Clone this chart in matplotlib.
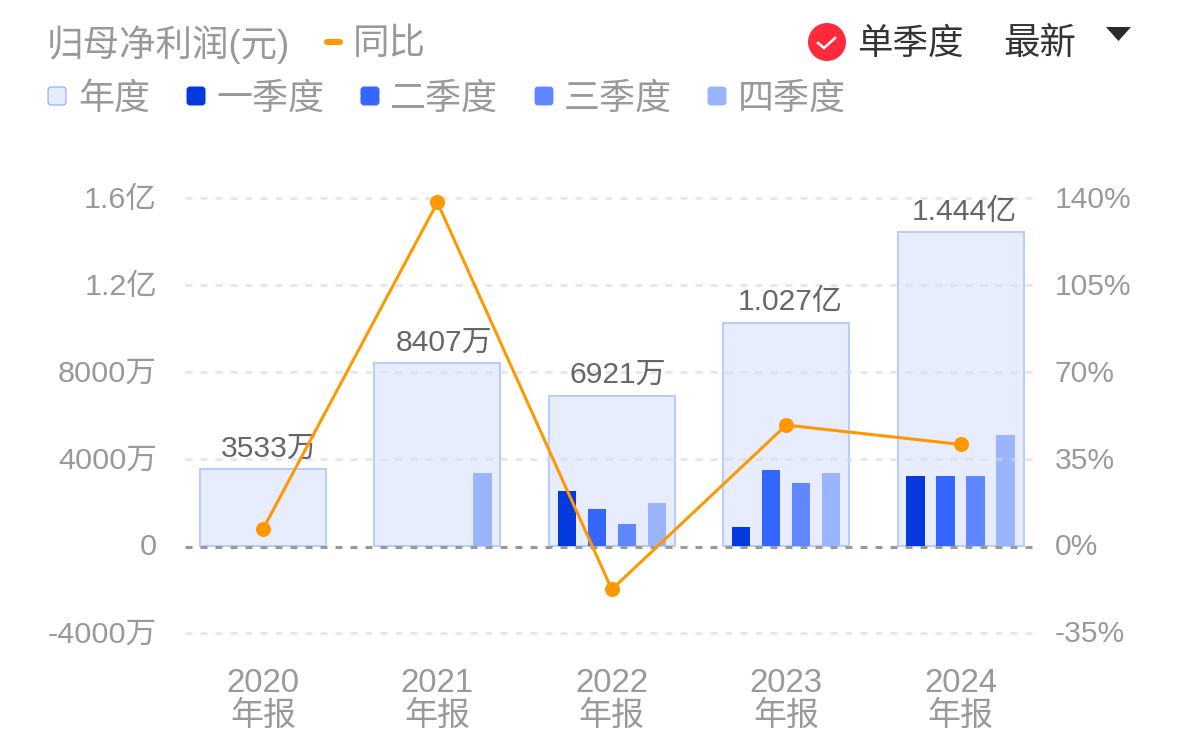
import matplotlib
matplotlib.use("Agg")
import matplotlib.pyplot as plt
from matplotlib.patches import Circle, FancyBboxPatch, Polygon
from matplotlib.transforms import ScaledTranslation
import numpy as np

plt.rcParams['font.family'] = ['Liberation Sans', 'Noto Sans CJK SC', 'DejaVu Sans']

# ---------- data ----------
years = ['2020', '2021', '2022', '2023', '2024']
annual = [0.3533e8, 0.8407e8, 0.6921e8, 1.027e8, 1.444e8]
annual_labels = ['3533万', '8407万', '6921万', '1.027亿', '1.444亿']
q1 = [np.nan, np.nan, 0.251e8, 0.085e8, 0.32e8]
q2 = [np.nan, np.nan, 0.168e8, 0.348e8, 0.32e8]
q3 = [np.nan, np.nan, 0.099e8, 0.292e8, 0.32e8]
q4 = [np.nan, 0.334e8, 0.196e8, 0.334e8, 0.513e8]
yoy = [6.8, 138.4, -17.5, 48.7, 40.9]
left_ticks = [-0.4e8, 0, 0.4e8, 0.8e8, 1.2e8, 1.6e8]
left_labels = ['-4000万', '0', '4000万', '8000万', '1.2亿', '1.6亿']
right_ticks = [-35, 0, 35, 70, 105, 140]
right_labels = ['-35%', '0%', '35%', '70%', '105%', '140%']
legend_names = ['年度', '一季度', '二季度', '三季度', '四季度']

# ---------- style ----------
W, H = 1179, 755
C_YEAR_FACE, C_YEAR_EDGE = '#e7edfd', '#b8ccfd'
C_Q = ['#0439de', '#3567ff', '#5f87ff', '#9ab4fe']
C_LINE = '#ff9800'
C_TEXT = '#999999'
PX = 72 / 100

fig = plt.figure(figsize=(W / 100, H / 100), dpi=100, facecolor='white')
L, R, T, B = 185, 1033, 198.5, 632.8
ax = fig.add_axes([L / W, 1 - B / H, (R - L) / W, (B - T) / H])
ax.set_ylim(left_ticks[0], left_ticks[-1])
sp = 174.4
ax.set_xlim((L - 263) / sp, (R - 263) / sp)
ax.patch.set_alpha(0)
for s in ax.spines.values():
    s.set_visible(False)

x = np.arange(len(years))
ax.bar(x, annual, width=126 / sp, facecolor=C_YEAR_FACE, edgecolor=C_YEAR_EDGE,
       linewidth=2 * PX, zorder=2)
offs = [-45, -15, 15, 45]
for vals, off, c in zip([q1, q2, q3, q4], offs, C_Q):
    ax.bar(x + off / sp, vals, width=18.5 / sp, color=c, zorder=3)

down1 = ScaledTranslation(0, -1 / 100, fig.dpi_scale_trans)
for y in left_ticks:
    is_zero = y == 0
    ln = ax.axhline(y, color='#999999' if is_zero else '#d6d9e0', alpha=1 if is_zero else 0.6,
                    lw=3 * PX, ls=(0, (7 / 3, 8 / 3)), dash_capstyle='butt', zorder=4, clip_on=False)
    if is_zero:
        ln.set_transform(ln.get_transform() + down1)

for xi, v, lab in zip(x, annual, annual_labels):
    dx = 6.5 if lab.endswith('万') else 3.5
    ax.annotate(lab, (xi, v), xytext=(dx * PX, 6.5 * PX), textcoords='offset points',
                ha='center', va='bottom', fontsize=30 * PX, color='#666666', zorder=5)

ax.set_xticks(x, [f'{y}\n年报' for y in years])
ax.set_yticks(left_ticks, left_labels)
ax.tick_params(axis='x', length=0, pad=35 * PX, labelsize=33 * PX, labelcolor=C_TEXT)
ax.tick_params(axis='y', length=0, pad=28 * PX, labelsize=30.5 * PX, labelcolor=C_TEXT)
for t in ax.get_xticklabels():
    t.set_linespacing(1.09)

ax2 = ax.twinx()
ax2.set_ylim(right_ticks[0], right_ticks[-1])
ax2.set_yticks(right_ticks, right_labels)
ax2.tick_params(axis='y', length=0, pad=22 * PX, labelsize=30 * PX, labelcolor=C_TEXT)
for s in ax2.spines.values():
    s.set_visible(False)
ax2.patch.set_alpha(0)
ax2.plot(x, yoy, color=C_LINE, lw=3 * PX, marker='o', ms=15 * PX, mew=0, zorder=6, clip_on=False)

up2 = ScaledTranslation(0, 1.5 / 100, fig.dpi_scale_trans)
for t in ax.get_yticklabels() + ax2.get_yticklabels():
    t.set_transform(t.get_transform() + up2)

# ---------- header / legend in pixel coordinates ----------
ov = fig.add_axes([0, 0, 1, 1], zorder=10)
ov.set_xlim(0, W)
ov.set_ylim(H, 0)
ov.axis('off')
FS = 36.5 * PX
ov.text(47, 44.5, '归母净利润(元)', fontsize=FS, color=C_TEXT, va='center', ha='left')
ov.plot([327, 340], [42, 42], color=C_LINE, lw=6 * PX, solid_capstyle='round')
ov.text(353, 44.5, '同比', fontsize=FS, color=C_TEXT, va='center', ha='left')

squares = [48, 187, 361, 535, 708]
labels_x = [78, 216, 390, 564, 738]
colors = [C_YEAR_FACE] + C_Q
for sx, tx, name, c, i in zip(squares, labels_x, legend_names, colors, range(5)):
    ec = '#7fa0fb' if i == 0 else c
    ov.add_patch(FancyBboxPatch((sx + 2, 89), 14, 14, boxstyle='round,pad=2,rounding_size=3',
                                facecolor=c, edgecolor=ec, lw=1 * PX))
    ov.text(tx, 99, name, fontsize=36 * PX, color=C_TEXT, va='center', ha='left')

ov.add_patch(Circle((827, 42), 19, facecolor='#ff2a3c', edgecolor='none'))
ov.plot([818, 824, 835], [43, 48, 38], color='white', lw=2.5 * PX, solid_joinstyle='miter')
ov.text(857, 44.5, '单季度', fontsize=35.5 * PX, color='#333333', va='center', ha='left')
ov.text(1003, 44.5, '最新', fontsize=FS, color='#333333', va='center', ha='left')
ov.add_patch(Polygon([(1106, 27), (1131, 27), (1118.5, 41)], closed=True, facecolor='#2b2b2b', edgecolor='none'))

fig.savefig('out.png', dpi=100, facecolor='white')
